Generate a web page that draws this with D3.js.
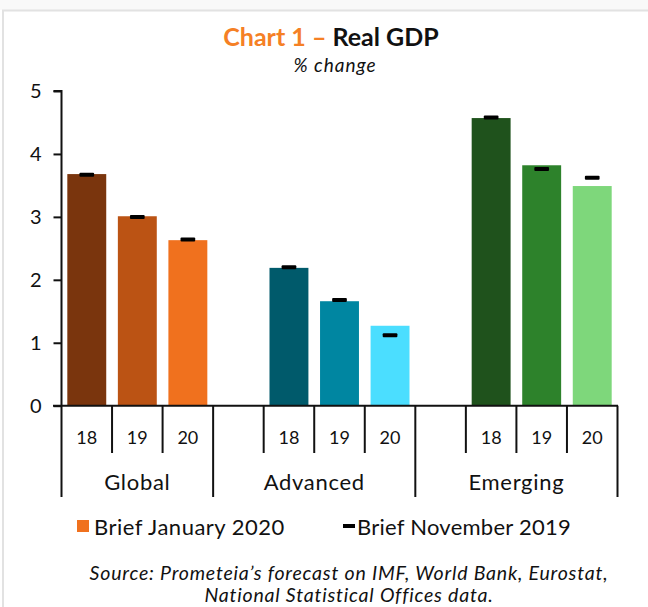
<!DOCTYPE html>
<html>
<head>
<meta charset="utf-8">
<script src="https://cdn.jsdelivr.net/npm/d3@7"></script>
<style>
  html, body { margin: 0; padding: 0; background: #fff; }
  svg { display: block; }
  text { font-family: Lato, "Open Sans", sans-serif; fill: #111; }
</style>
</head>
<body>
<svg id="chart" width="648" height="607"></svg>
<script>
// Real GDP growth, % change, by area and year
const groups = ["Global", "Advanced", "Emerging"];
const years = ["18", "19", "20"];
const briefJan2020 = [
  [3.68, 3.01, 2.63],
  [2.19, 1.66, 1.27],
  [4.57, 3.82, 3.49]
];
const briefNov2019 = [
  [3.67, 3.00, 2.64],
  [2.20, 1.68, 1.12],
  [4.58, 3.76, 3.62]
];
const yTicks = [0, 1, 2, 3, 4, 5];
const barColors = [
  ["#7a350d", "#bb5314", "#f0711e"],
  ["#005a6b", "#0086a1", "#4bdeff"],
  ["#1f521c", "#2d822b", "#7ed77b"]
];
const legendLabels = ["Brief January 2020", "Brief November 2019"];

const svg = d3.select("#chart");

// light frame
svg.append("rect").attr("x", 0).attr("y", 0).attr("width", 648).attr("height", 10).attr("fill", "#f9f9f9");
svg.append("line").attr("x1", 2).attr("x2", 648).attr("y1", 10.5).attr("y2", 10.5)
  .attr("stroke", "#e2e2e2").attr("stroke-width", 2);
svg.append("line").attr("x1", 3).attr("x2", 3).attr("y1", 10).attr("y2", 607)
  .attr("stroke", "#e2e2e2").attr("stroke-width", 2);

// slots: each group after the first starts with an empty slot
const slots = [];
groups.forEach((g, gi) => {
  if (gi > 0) slots.push({ key: "gap" + gi, group: gi, year: null });
  years.forEach((y, yi) => slots.push({ key: g + y, group: gi, year: yi }));
});

const x = d3.scaleBand().domain(slots.map(s => s.key)).range([61.5, 617.5]).padding(0);
const y = d3.scaleLinear().domain([0, 5]).range([405.7, 91]);
const bw = x.bandwidth();
const barW = bw * 0.77;

// title
const title = svg.append("text").attr("x", 331).attr("y", 46).attr("text-anchor", "middle")
  .style("font-size", "25px").style("font-weight", 700);
title.append("tspan").text("Chart 1 – ").style("fill", "#f58025");
title.append("tspan").text("Real GDP").style("fill", "#111");
svg.append("text").attr("x", 335).attr("y", 72).attr("text-anchor", "middle")
  .style("font-size", "19px").style("font-style", "italic").style("letter-spacing", "1px")
  .text("%  change");

// y axis
const yAxis = d3.axisLeft(y).tickValues(yTicks).tickSize(8).tickPadding(12).tickFormat(d3.format("d"));
const gy = svg.append("g").attr("transform", "translate(61.5,0)").call(yAxis);
gy.select(".domain").attr("stroke", "#111").attr("stroke-width", 2).attr("d", "M-8,91H0V405.7");
gy.selectAll(".tick line").attr("stroke", "#111").attr("stroke-width", 2);
gy.selectAll(".tick text").style("font-size", "20px").style("font-family", "Lato, sans-serif").attr("fill", "#111");

// bars
const bars = [];
slots.forEach(s => {
  if (s.year === null) return;
  bars.push({ key: s.key, g: s.group, i: s.year,
    jan: briefJan2020[s.group][s.year], nov: briefNov2019[s.group][s.year] });
});
svg.append("g").selectAll("rect").data(bars).join("rect")
  .attr("x", d => x(d.key) + (bw - barW) / 2)
  .attr("width", barW)
  .attr("y", d => y(d.jan))
  .attr("height", d => y(0) - y(d.jan))
  .attr("fill", d => barColors[d.g][d.i]);

// previous-brief markers
const mW = 14.7, mH = 4;
svg.append("g").selectAll("rect").data(bars).join("rect")
  .attr("x", d => x(d.key) + bw / 2 - mW / 2)
  .attr("width", mW)
  .attr("y", d => y(d.nov) - mH / 2)
  .attr("height", mH)
  .attr("rx", 1)
  .attr("fill", "#000");

// category axis
const gx = svg.append("g");
gx.append("line").attr("x1", 53).attr("x2", 618).attr("y1", y(0)).attr("y2", y(0))
  .attr("stroke", "#111").attr("stroke-width", 2);
const groupStarts = new Set(slots.filter((s, i) => i === 0 || s.group !== slots[i - 1].group).map(s => s.key));
const bounds = slots.map(s => ({ x: x(s.key), major: groupStarts.has(s.key) }));
bounds.push({ x: x.range()[1], major: true });
gx.selectAll("line.tick").data(bounds).join("line").attr("class", "tick")
  .attr("x1", d => d.x).attr("x2", d => d.x)
  .attr("y1", y(0)).attr("y2", d => d.major ? 497 : 453)
  .attr("stroke", "#111").attr("stroke-width", 2);
gx.selectAll("text.year").data(bars).join("text").attr("class", "year")
  .attr("x", d => x(d.key) + bw / 2).attr("y", 444).attr("text-anchor", "middle")
  .style("font-size", "18px").text(d => years[d.i]);
gx.selectAll("text.group").data(groups).join("text").attr("class", "group")
  .attr("x", (g, gi) => {
    const ks = slots.filter(s => s.group === gi);
    const x0 = x(ks[0].key), x1 = x(ks[ks.length - 1].key) + bw;
    return (x0 + x1) / 2;
  })
  .attr("y", 490).attr("text-anchor", "middle")
  .style("font-size", "22px").style("letter-spacing", "0.7px").text(d => d);

// legend
const lg = svg.append("g");
lg.append("rect").attr("x", 77).attr("y", 520).attr("width", 12).attr("height", 12).attr("fill", barColors[0][2]);
lg.append("text").attr("x", 94).attr("y", 535).style("font-size", "22px").style("letter-spacing", "0.5px")
  .text(legendLabels[0]);
lg.append("rect").attr("x", 343).attr("y", 524).attr("width", 12).attr("height", 4).attr("fill", "#000");
lg.append("text").attr("x", 357).attr("y", 535).style("font-size", "22px").style("letter-spacing", "0.25px")
  .text(legendLabels[1]);

// source note
svg.append("text").attr("x", 349).attr("y", 580).attr("text-anchor", "middle")
  .style("font-size", "19.5px").style("font-style", "italic").style("letter-spacing", "0.8px")
  .text("Source: Prometeia’s forecast on IMF, World Bank, Eurostat,");
svg.append("text").attr("x", 349).attr("y", 601.5).attr("text-anchor", "middle")
  .style("font-size", "19.5px").style("font-style", "italic").style("letter-spacing", "0.8px")
  .text("National Statistical Offices data.");
</script>
</body>
</html>
